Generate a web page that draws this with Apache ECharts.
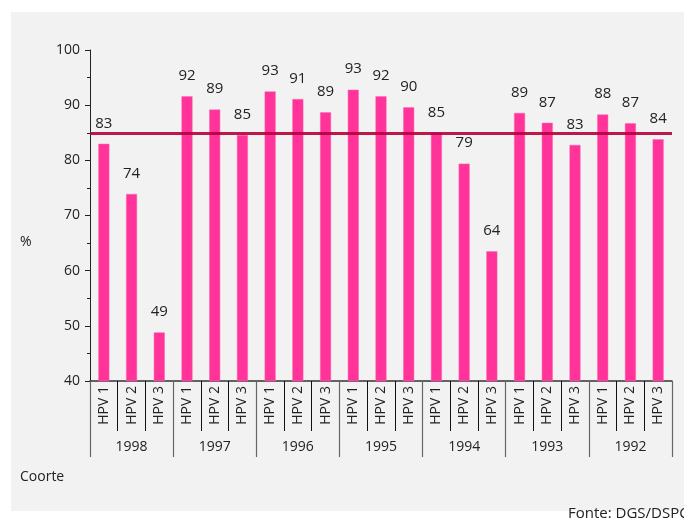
<!DOCTYPE html>
<html><head><meta charset="utf-8">
<script src="https://cdn.jsdelivr.net/npm/echarts@6/dist/echarts.min.js"></script>
<style>html,body{margin:0;padding:0;background:#fff}#c{width:684px;height:525px}</style>
</head><body><div id="c"></div>
<script>
const doses = ['HPV 1','HPV 2','HPV 3'];
const cohorts = ['1998','1997','1996','1995','1994','1993','1992'];
const coverage = [83.0,73.9,48.8, 91.6,89.2,84.6, 92.5,91.1,88.7, 92.8,91.6,89.6, 85.0,79.4,63.5, 88.6,86.8,82.8, 88.3,86.7,83.8];
const target = 85;
const yTicks = {min:40, max:100, step:10};

const cats = [];
cohorts.forEach(c => doses.forEach(d => cats.push(c + '|' + d)));
const font = 'Open Sans';
const chart = echarts.init(document.getElementById('c'));
chart.setOption({
  animation:false,
  backgroundColor:'#ffffff',
  graphic:[
    {type:'rect', z:-10, shape:{x:11,y:12,width:673,height:499}, style:{fill:'#F2F2F2'}},
    {type:'text', left:20, top:235, style:{text:'%', font:'14px "'+font+'"', fill:'#222'}},
    {type:'text', left:20, top:470, style:{text:'Coorte', font:'14px "'+font+'"', fill:'#222'}},
    {type:'text', left:568, top:506, style:{text:'Fonte: DGS/DSPCI', font:'15px "'+font+'"', fill:'#222'}}
  ],
  grid:{left:90, right:12, top:50, bottom:144, containLabel:false},
  xAxis:[
    {type:'category', data:cats, position:'bottom',
     axisLine:{show:true, lineStyle:{color:'#333', width:1.5}},
     axisTick:{show:true, interval:0, length:50, lineStyle:{color:'#111', width:1}},
     axisLabel:{show:true, interval:0, rotate:90, margin:5, fontFamily:font, fontSize:14, color:'#222',
       formatter:v=>v.split('|')[1]}},
    {type:'category', data:cohorts, position:'bottom', offset:0,
     axisLine:{show:false},
     axisTick:{show:true, interval:0, length:76, lineStyle:{color:'#666', width:1.2}},
     axisLabel:{show:true, interval:0, margin:59, fontFamily:font, fontSize:14, color:'#222'}}
  ],
  yAxis:{type:'value', min:yTicks.min, max:yTicks.max, interval:yTicks.step,
    axisLine:{show:true, lineStyle:{color:'#222', width:1}},
    axisTick:{show:true, inside:false, length:5, lineStyle:{color:'#222', width:1}},
    minorTick:{show:true, splitNumber:2, length:3, lineStyle:{color:'#222', width:1}},
    splitLine:{show:false},
    axisLabel:{margin:10, fontFamily:font, fontSize:14, color:'#222'}},
  series:[{
    type:'bar', xAxisIndex:0, data:coverage, barWidth:11,
    itemStyle:{color:'#FF3399', borderColor:'#FF66B3', borderWidth:0.5},
    label:{show:true, position:'top', distance:13, fontFamily:font, fontSize:15, color:'#222',
      formatter:p=>Math.round(p.value)},
    markLine:{silent:true, symbol:'none', label:{show:false},
      lineStyle:{color:'#B5003A', width:3, type:'solid', opacity:0.9},
      data:[{yAxis:target}]}
  }]
});
</script></body></html>
